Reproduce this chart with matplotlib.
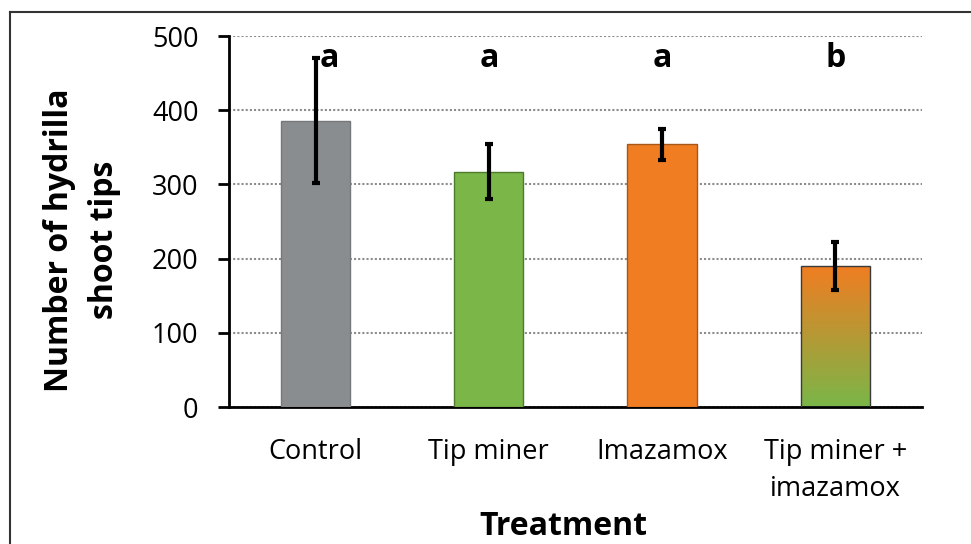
import matplotlib
matplotlib.use('Agg')
import matplotlib.pyplot as plt
import numpy as np
from matplotlib.colors import LinearSegmentedColormap
from matplotlib.lines import Line2D

# Hydrilla shoot tips per treatment (mean +/- error)
treatments = ['Control', 'Tip miner', 'Imazamox', 'Tip miner +\nimazamox']
means = [386, 317, 354, 190]
errors = [84, 37, 21, 32]
letters = ['a', 'a', 'a', 'b']

plt.rcParams['font.family'] = ['Open Sans', 'DejaVu Sans']

gray = '#8A8D8F'
green = '#7AB648'
orange = '#F07D22'

fig = plt.figure(figsize=(9.71, 5.44), dpi=100)
ax = fig.add_axes([0.2358, 0.2518, 0.7137, 0.682])

x = np.arange(len(treatments))
bars = ax.bar(x, means, width=0.4, color=[gray, green, orange, 'none'],
              edgecolor=['#76797B', '#4E7A2A', '#A5561A', '#3A3A3A'],
              linewidth=1.0, zorder=3)

# gradient fill for the combined treatment (orange top -> green bottom)
cmap = LinearSegmentedColormap.from_list('og', [green, orange])
b = bars[3]
grad = np.linspace(0, 1, 256).reshape(-1, 1)
im = ax.imshow(grad, cmap=cmap, origin='lower', aspect='auto',
               extent=[b.get_x(), b.get_x() + b.get_width(), 0, b.get_height()],
               zorder=2.5)
im.set_clip_path(b)

ax.errorbar(x, means, yerr=errors, fmt='none', ecolor='black',
            elinewidth=3, capsize=3, capthick=3, zorder=4)

# significance letters
letter_x = x + np.array([0.08, 0, 0, 0])
for lx, l in zip(letter_x, letters):
    ax.text(lx, 470, l, ha='center', va='center', fontsize=23,
            fontweight='bold', zorder=5)

ax.set_xlim(-0.5, 3.5)
ax.set_ylim(0, 500)
ax.set_yticks(np.arange(0, 501, 100))
ax.set_xticks(x)
ax.set_xticklabels(treatments, fontsize=19.5, linespacing=1.45)
ax.tick_params(axis='x', length=0, pad=22)
ax.tick_params(axis='y', labelsize=19.5, length=8, width=2, pad=14)

ax.yaxis.grid(True, linestyle=(0, (1, 1)), color='#8C8C8C', linewidth=1.5, zorder=0)
ax.set_axisbelow(True)
for s in ['top', 'right']:
    ax.spines[s].set_visible(False)
ax.spines['left'].set_linewidth(2)
ax.spines['bottom'].set_linewidth(2)

ax.set_ylabel('Number of hydrilla\nshoot tips', fontsize=23, fontweight='bold',
              linespacing=1.5, va='center')
ax.yaxis.set_label_coords(-0.212, 0.45)
ax.set_xlabel('Treatment', fontsize=23, fontweight='bold', va='center')
ax.xaxis.set_label_coords(0.482, -0.322)

# frame around the figure (top and left edges visible)
fig.add_artist(Line2D([10/971, 10/971], [0, 1 - 12/544], transform=fig.transFigure,
                      color='#333333', lw=1.5))
fig.add_artist(Line2D([10/971, 1], [1 - 12/544, 1 - 12/544], transform=fig.transFigure,
                      color='#333333', lw=1.5))

fig.savefig('out.png', dpi=100)
